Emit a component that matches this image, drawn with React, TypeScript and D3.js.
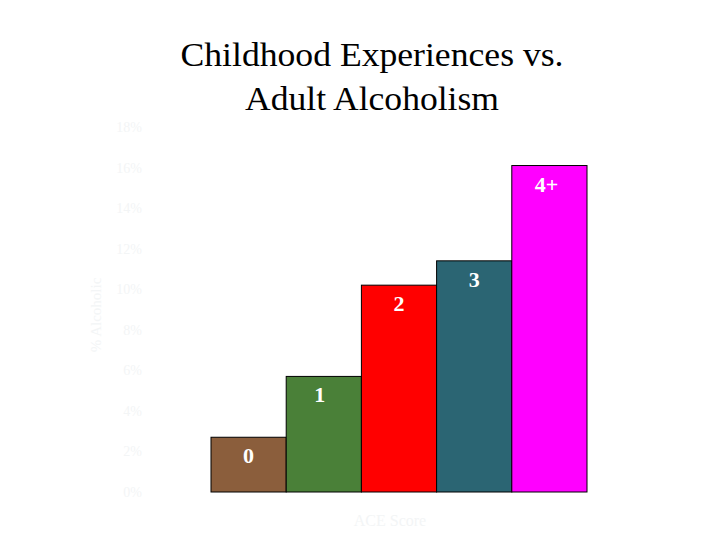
import React from "react";
import * as d3 from "d3";

const categories = ["0", "1", "2", "3", "4+"];
const values = [2.7, 5.7, 10.2, 11.4, 16.1];
const colors = ["#8b5e3c", "#4a8038", "#ff0000", "#2b6573", "#ff00ff"];
const yTicks = [0, 2, 4, 6, 8, 10, 12, 14, 16, 18];
const titleLines = ["Childhood Experiences vs.", "Adult Alcoholism"];
const yLabel = "% Alcoholic";
const xLabel = "ACE Score";

export default function App() {
  const W = 720, H = 540;
  const x = d3.scaleBand<string>().domain(categories).range([211, 587]).padding(0);
  const y = d3.scaleLinear().domain([0, 18]).range([492, 127]);
  const faint = "#f3f5f6";
  const titleWidths = [383, 254];
  return (
    <div style={{ position: "fixed", left: 0, top: 0 }}>
      <svg width={W} height={H} style={{ display: "block", background: "#fff" }}>
        {titleLines.map((t, i) => (
          <text key={i} x={372 - titleWidths[i] / 2} y={66 + i * 44}
            textLength={titleWidths[i]} lengthAdjust="spacingAndGlyphs"
            fontFamily="'Liberation Serif', 'Times New Roman', serif" fontSize={33} fill="#000">{t}</text>
        ))}
        {yTicks.map((t) => (
          <text key={t} x={142} y={y(t) + 5} textAnchor="end"
            fontFamily="'Liberation Serif', serif" fontSize={14} fill={faint}>{t}%</text>
        ))}
        <text transform={`translate(101,${315}) rotate(-90)`} textAnchor="middle"
          fontFamily="'Liberation Serif', serif" fontSize={15} fill={faint}>{yLabel}</text>
        <text x={390} y={526} textAnchor="middle"
          fontFamily="'Liberation Serif', serif" fontSize={16} fill={faint}>{xLabel}</text>
        {categories.map((c, i) => (
          <rect key={c} x={x(c)} y={y(values[i])} width={x.bandwidth()}
            height={y(0) - y(values[i])} fill={colors[i]} stroke="#000" strokeWidth={1} />
        ))}
        {categories.map((c, i) => (
          <text key={"l" + c} x={(x(c) as number) + x.bandwidth() / 2 + (i === 4 ? -3 : i === 1 ? -4 : 0)}
            y={y(values[i]) + 26} textAnchor="middle"
            fontFamily="'Liberation Serif', serif" fontWeight="bold" fontSize={22} fill="#fff">{c}</text>
        ))}
      </svg>
    </div>
  );
}
